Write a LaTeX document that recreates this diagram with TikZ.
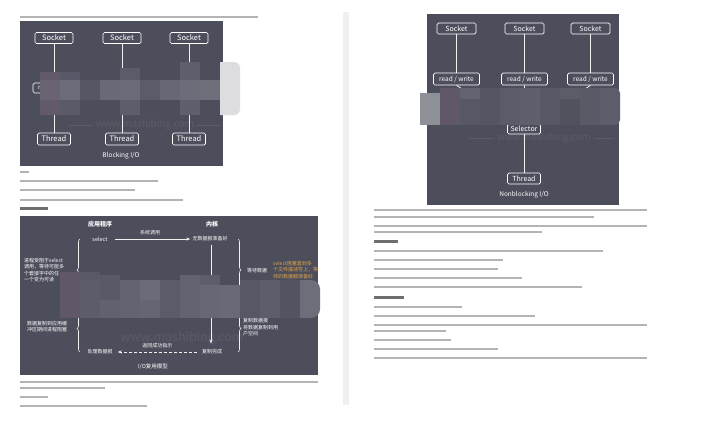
\documentclass[tikz,border=0pt]{standalone}
\usepackage{fontspec}
\setmainfont{Noto Sans CJK SC}
\usetikzlibrary{arrows.meta,decorations.pathreplacing}
\definecolor{dbg}{RGB}{76,78,92}
\definecolor{orng}{RGB}{224,166,72}
\definecolor{barc}{RGB}{180,180,180}
\definecolor{hbarc}{RGB}{110,110,110}
\definecolor{wmc}{RGB}{90,92,105}
\definecolor{sepc}{RGB}{240,240,240}
\definecolor{endA}{RGB}{221,221,223}
\definecolor{endB}{RGB}{108,110,122}
\definecolor{endC}{RGB}{92,94,107}
\newcommand\tbar[3]{\fill[barc] (#2,#1-1.2) rectangle (#3,#1+1.2);}
\newcommand\hdbar[3]{\fill[hbarc] (#2,#1-1.5) rectangle (#3,#1+1.5);}
\newcommand\mzb[5]{\definecolor{mzc}{RGB}{#5}\fill[mzc] (#1,#2) rectangle (#3,#4);}
\begin{document}
\begin{tikzpicture}[x=1pt,y=-1pt,
  sbox/.style={draw=white, rounded corners=1.5pt, line width=0.7pt, text=white, inner sep=0pt},
  lnk/.style={draw=white!92!dbg, line width=0.8pt},
  lbl/.style={text=white, inner sep=0pt},
  arr/.style={draw=white!92!dbg, line width=0.7pt, -{Stealth[length=4pt,width=3pt]}},
  brc/.style={draw=white!92!dbg, line width=0.6pt, decorate, decoration={brace,amplitude=3pt}},
  wm/.style={text=wmc, inner sep=0pt}
  ]
\useasboundingbox[fill=white] (0,0) rectangle (709,421);
\fill[sepc] (343,12) rectangle (349,405);

% ---------- left page ----------
\tbar{17}{20}{258}
\fill[dbg] (20,21) rectangle (223,166);
\node[wm, font=\fontsize{10}{10}\selectfont] (wm1) at (145,125) {www.mashibing.com};
\draw[wmc, line width=0.4pt] (wm1.west) ++(-3,0) -- ++(-24,0);
\draw[wmc, line width=0.4pt] (wm1.east) ++(3,0) -- ++(24,0);
\foreach \i/\x in {1/54,2/122,3/189}{
  \node[sbox, minimum width=38, minimum height=11, font=\fontsize{7.5}{7.5}\selectfont] (bs\i) at (\x,38) {Socket};
  \node[sbox, minimum width=42, minimum height=10, font=\fontsize{6}{6}\selectfont] (brw\i) at (\x,88) {read / write};
  \node[sbox, minimum width=33, minimum height=12, font=\fontsize{7.5}{7.5}\selectfont] (bt\i) at (\x,139) {Thread};
  \draw[lnk] (bs\i) -- (brw\i);
  \draw[lnk] (brw\i) -- (bt\i);
}
\node[lbl, font=\fontsize{6.5}{6.5}\selectfont] (btitle) at (121,156) {Blocking I/O};
% mosaic
\mzb{40}{72}{60}{115}{98,90,104}
\mzb{40}{80}{60}{100}{106,99,114}
\mzb{60}{72}{80}{80}{88,89,104}
\mzb{60}{80}{80}{100}{108,109,122}
\mzb{60}{100}{80}{115}{90,91,105}
\mzb{80}{80}{100}{100}{85,87,101}
\mzb{100}{80}{120}{100}{104,106,119}
\mzb{120}{68}{140}{80}{90,92,106}
\mzb{120}{80}{140}{100}{106,108,121}
\mzb{120}{100}{140}{115}{92,94,108}
\mzb{140}{80}{160}{100}{90,92,106}
\mzb{160}{80}{180}{100}{102,104,117}
\mzb{180}{62}{200}{80}{93,95,108}
\mzb{180}{80}{200}{100}{107,109,121}
\mzb{180}{100}{200}{115}{94,96,109}
\mzb{200}{80}{220}{100}{108,110,122}
\begin{scope}
\clip (220,0) rectangle (250,200);
\fill[endA, rounded corners=6pt] (200,62) rectangle (240,115);
\end{scope}

\tbar{172}{20}{29}
\tbar{181}{20}{158}
\tbar{190}{20}{135}
\tbar{200}{20}{183}
\hdbar{208}{20}{48}

% I/O multiplexing diagram
\fill[dbg] (20,216) rectangle (318,375);
\node[wm, font=\fontsize{12.5}{12.5}\selectfont] (wm2) at (182,338) {www.mashibing.com};
\node[lbl, font=\bfseries\fontsize{6}{6}\selectfont] (app) at (100,224) {应用程序};
\node[lbl, font=\bfseries\fontsize{6}{6}\selectfont] (kern) at (212,224) {内核};
\node[lbl, font=\fontsize{5.5}{5.5}\selectfont] (sel) at (100,239) {select};
\node[lbl, font=\fontsize{5}{5}\selectfont] (nodata) at (210,239) {无数据报准备好};
\node[lbl, font=\fontsize{5}{5}\selectfont] (done) at (212,352) {复制完成};
\node[lbl, font=\fontsize{5}{5}\selectfont] (proc) at (100,352) {处理数据报};
\draw[arr, shorten <=7pt, shorten >=2pt] (sel) -- node[lbl, font=\fontsize{5}{5}\selectfont, above=3.5pt] (syscall) {系统调用} (nodata);
\draw[arr, shorten <=3pt, shorten >=6pt] (nodata.south -| 211,0) -- (done.north -| 211,0);
\draw[arr, dash pattern=on 3pt off 2pt, shorten <=5pt, shorten >=5pt] (done) -- node[lbl, font=\fontsize{5}{5}\selectfont, above=4pt] (ret) {返回成功指示} (proc);
\coordinate (lb1) at (80,239); \coordinate (lb2) at (80,301);
\coordinate (lb3) at (80,305); \coordinate (lb4) at (80,352);
\coordinate (rb1) at (238,239); \coordinate (rb2) at (238,301);
\coordinate (rb3) at (238,305); \coordinate (rb4) at (238,352);
\draw[brc] (lb2) -- (lb1);
\draw[brc] (lb4) -- (lb3);
\draw[brc] (rb1) -- (rb2);
\draw[brc] (rb3) -- (rb4);
\node[lbl, anchor=west, align=left, font=\fontsize{5}{6.2}\selectfont] (ltxt1) at (24,270) {进程受阻于select\\调用，等待可能多\\个套接字中的任\\一个变为可读};
\node[lbl, anchor=west, align=left, font=\fontsize{5}{6.5}\selectfont] (ltxt2) at (27,326.5) {数据复制到应用缓\\冲区期间进程阻塞};
\node[lbl, font=\fontsize{5}{5}\selectfont] (wait) at (257,271) {等待数据};
\node[anchor=west, align=left, text=orng, inner sep=0pt, font=\fontsize{5}{6.7}\selectfont] (otxt) at (273,270) {select阻塞直到多\\个文件描述符上，等\\待的数据都准备好};
\node[lbl, anchor=west, align=left, font=\fontsize{5}{6.5}\selectfont] (rtxt2) at (243,327.5) {复制数据报\\将数据复制到用\\户空间};
\node[lbl, font=\fontsize{5.5}{5.5}\selectfont] (mtitle) at (153,367) {I/O复用模型};
% mosaic
\mzb{60}{272}{80}{318}{96,88,104}
\mzb{80}{272}{100}{280}{88,90,104}
\mzb{80}{280}{100}{318}{92,93,107}
\mzb{100}{275}{120}{300}{88,90,104}
\mzb{100}{300}{120}{318}{96,98,111}
\mzb{120}{280}{140}{318}{98,100,114}
\mzb{140}{280}{160}{300}{106,108,121}
\mzb{140}{300}{160}{318}{100,102,115}
\mzb{160}{280}{180}{318}{90,92,106}
\mzb{180}{275}{200}{318}{97,99,112}
\mzb{200}{275}{220}{285}{92,94,108}
\mzb{200}{285}{220}{318}{102,104,117}
\mzb{220}{285}{240}{318}{104,106,119}
\mzb{240}{280}{260}{318}{86,88,102}
\mzb{260}{280}{280}{318}{92,94,107}
\mzb{280}{280}{300}{318}{82,84,97}
\begin{scope}
\clip (300,250) rectangle (330,330);
\fill[endB, rounded corners=9pt] (285,280) rectangle (320,318);
\end{scope}

\tbar{382}{20}{318}
\tbar{388}{20}{105}
\tbar{397}{20}{48}
\tbar{406}{20}{147}

% ---------- right page ----------
\fill[dbg] (427,14) rectangle (619,205);
\node[wm, font=\fontsize{9.5}{9.5}\selectfont] (wm3) at (544,138) {www.mashibing.com};
\draw[wmc, line width=0.4pt] (wm3.west) ++(-3,0) -- ++(-25,0);
\draw[wmc, line width=0.4pt] (wm3.east) ++(3,0) -- ++(20,0);
\foreach \i/\x in {1/456.5,2/524.5,3/590.5}{
  \node[sbox, minimum width=39, minimum height=11, font=\fontsize{7}{7}\selectfont] (ns\i) at (\x,28.5) {Socket};
  \node[sbox, minimum width=46, minimum height=12, font=\fontsize{6.5}{6.5}\selectfont] (nrw\i) at (\x,79) {read / write};
  \draw[lnk] (ns\i) -- (nrw\i);
}
\node[sbox, minimum width=33, minimum height=10, font=\fontsize{7}{7}\selectfont] (nsel) at (524,129) {Selector};
\node[sbox, minimum width=33, minimum height=11, font=\fontsize{7}{7}\selectfont] (nthr) at (524,178.5) {Thread};
\draw[lnk] (nrw1.south) -- ([xshift=-8pt]nsel.north);
\draw[lnk] (nrw2) -- (nsel);
\draw[lnk] (nrw3.south) -- ([xshift=8pt]nsel.north);
\draw[lnk] (nsel) -- (nthr);
\node[lbl, font=\fontsize{6.5}{6.5}\selectfont] (ntitle) at (524,195) {Nonblocking I/O};
% mosaic
\mzb{420}{93}{440}{125}{142,144,152}
\mzb{440}{88}{460}{125}{96,88,104}
\mzb{460}{88}{480}{99}{98,98,112}
\mzb{460}{99}{480}{125}{86,88,102}
\mzb{480}{88}{500}{125}{84,86,100}
\mzb{500}{88}{520}{125}{90,92,106}
\mzb{520}{88}{540}{125}{94,96,108}
\mzb{540}{88}{560}{125}{86,88,101}
\mzb{560}{88}{580}{99}{90,92,104}
\mzb{560}{99}{580}{125}{80,82,94}
\mzb{580}{88}{600}{125}{88,90,102}
\begin{scope}
\clip (600,80) rectangle (630,130);
\fill[endC, rounded corners=5pt] (590,88) rectangle (620,125);
\end{scope}

\tbar{210}{374}{647}
\tbar{217}{374}{594}
\tbar{226}{374}{647}
\tbar{232}{374}{542}
\hdbar{241}{374}{398}
\tbar{251}{374}{603}
\tbar{260}{374}{503}
\tbar{269}{374}{498}
\tbar{278}{374}{522}
\tbar{287}{374}{582}
\hdbar{297}{374}{404}
\tbar{307}{374}{462}
\tbar{316}{374}{535}
\tbar{325}{374}{647}
\tbar{331}{374}{446}
\tbar{340}{374}{451}
\tbar{349}{374}{498}
\tbar{358}{374}{647}
\end{tikzpicture}
\end{document}
